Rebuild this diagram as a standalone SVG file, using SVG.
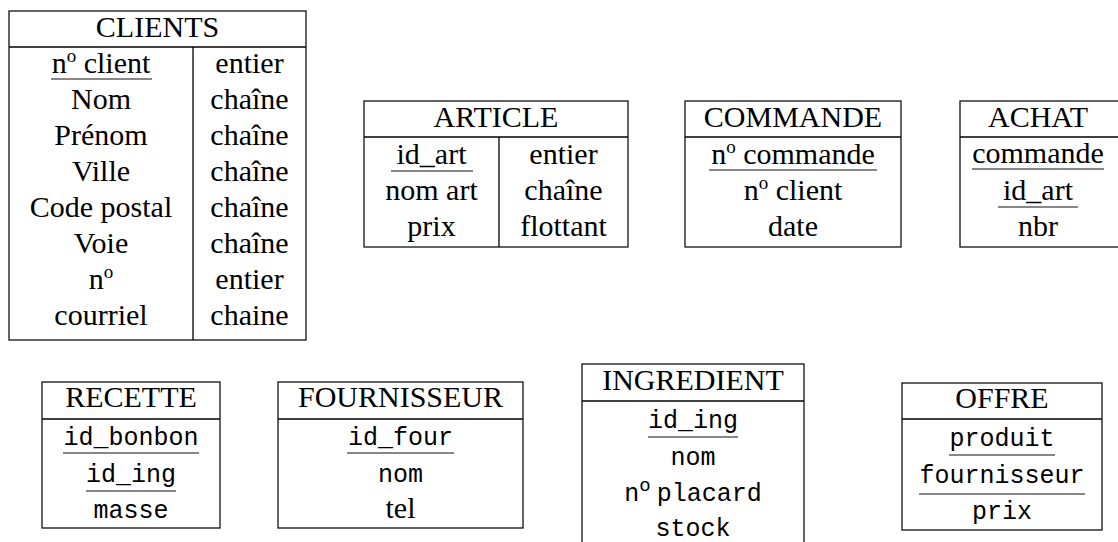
<svg xmlns="http://www.w3.org/2000/svg" width="1118" height="542" viewBox="0 0 1118 542">
  <style>
    .frame { fill: none; stroke: #111; stroke-width: 1.3; }
    .rule { stroke: #000; stroke-width: 1.3; }
    .ul { stroke: #111; stroke-width: 1.2; }
    .rm { font-family: "Liberation Serif", "Times New Roman", serif; font-size: 30px; fill: #000; text-anchor: middle; }
    .tt { font-family: "Liberation Mono", "Courier New", monospace; font-size: 25px; fill: #000; text-anchor: middle; }
    .sup { font-size: 19px; }
  </style>
  <rect width="1118" height="542" fill="#fff"/>

  <!-- CLIENTS -->
  <g id="clients">
    <rect class="frame" x="9" y="11" width="297" height="329"/>
    <line class="rule" x1="9" y1="47" x2="306" y2="47"/>
    <line class="rule" x1="193" y1="47" x2="193" y2="340"/>
    <text class="rm" x="157.5" y="37">CLIENTS</text>
    <text class="rm" x="101" y="73">n<tspan class="sup" dy="-11">o</tspan><tspan dy="11"> client</tspan></text>
    <line class="ul" x1="51" y1="79" x2="152" y2="79"/>
    <text class="rm" x="101" y="109">Nom</text>
    <text class="rm" x="101" y="145">Prénom</text>
    <text class="rm" x="101" y="181">Ville</text>
    <text class="rm" x="101" y="217">Code postal</text>
    <text class="rm" x="101" y="253">Voie</text>
    <text class="rm" x="101" y="289">n<tspan class="sup" dy="-11">o</tspan></text>
    <text class="rm" x="101" y="325">courriel</text>
    <text class="rm" x="249.5" y="73">entier</text>
    <text class="rm" x="249.5" y="109">chaîne</text>
    <text class="rm" x="249.5" y="145">chaîne</text>
    <text class="rm" x="249.5" y="181">chaîne</text>
    <text class="rm" x="249.5" y="217">chaîne</text>
    <text class="rm" x="249.5" y="253">chaîne</text>
    <text class="rm" x="249.5" y="289">entier</text>
    <text class="rm" x="249.5" y="325">chaine</text>
  </g>

  <!-- ARTICLE -->
  <g id="article">
    <rect class="frame" x="364" y="101" width="264" height="146"/>
    <line class="rule" x1="364" y1="137" x2="628" y2="137"/>
    <line class="rule" x1="499" y1="137" x2="499" y2="247"/>
    <text class="rm" x="496" y="127">ARTICLE</text>
    <text class="rm" x="431.5" y="164">id_art</text>
    <line class="ul" x1="391" y1="171" x2="473" y2="171"/>
    <text class="rm" x="431.5" y="200">nom art</text>
    <text class="rm" x="431.5" y="236">prix</text>
    <text class="rm" x="563.5" y="164">entier</text>
    <text class="rm" x="563.5" y="200">chaîne</text>
    <text class="rm" x="563.5" y="236">flottant</text>
  </g>

  <!-- COMMANDE -->
  <g id="commande">
    <rect class="frame" x="685" y="101" width="216" height="146"/>
    <line class="rule" x1="685" y1="137" x2="901" y2="137"/>
    <text class="rm" x="793" y="127">COMMANDE</text>
    <text class="rm" x="793" y="164">n<tspan class="sup" dy="-11">o</tspan><tspan dy="11"> commande</tspan></text>
    <line class="ul" x1="709" y1="170" x2="877" y2="170"/>
    <text class="rm" x="793" y="200">n<tspan class="sup" dy="-11">o</tspan><tspan dy="11"> client</tspan></text>
    <text class="rm" x="793" y="236">date</text>
  </g>

  <!-- ACHAT -->
  <g id="achat">
    <rect class="frame" x="960" y="101" width="160" height="146"/>
    <line class="rule" x1="960" y1="137" x2="1120" y2="137"/>
    <text class="rm" x="1038" y="127">ACHAT</text>
    <text class="rm" x="1038" y="163">commande</text>
    <line class="ul" x1="972" y1="169" x2="1104" y2="169"/>
    <text class="rm" x="1038" y="200">id_art</text>
    <line class="ul" x1="998" y1="207" x2="1078" y2="207"/>
    <text class="rm" x="1038" y="236">nbr</text>
  </g>

  <!-- RECETTE -->
  <g id="recette">
    <rect class="frame" x="42" y="382" width="178" height="146"/>
    <line class="rule" x1="42" y1="419" x2="220" y2="419"/>
    <text class="rm" x="131" y="407">RECETTE</text>
    <text class="tt" x="131" y="445">id_bonbon</text>
    <line class="ul" x1="63" y1="453" x2="199" y2="453"/>
    <text class="tt" x="131" y="482">id_ing</text>
    <line class="ul" x1="86" y1="491" x2="176" y2="491"/>
    <text class="tt" x="131" y="518">masse</text>
  </g>

  <!-- FOURNISSEUR -->
  <g id="fournisseur">
    <rect class="frame" x="278" y="382" width="245" height="146"/>
    <line class="rule" x1="278" y1="419" x2="523" y2="419"/>
    <text class="rm" x="400.5" y="407">FOURNISSEUR</text>
    <text class="tt" x="400.5" y="445">id_four</text>
    <line class="ul" x1="347" y1="453" x2="454" y2="453"/>
    <text class="tt" x="400.5" y="482">nom</text>
    <text class="rm" x="400.5" y="518">tel</text>
  </g>

  <!-- INGREDIENT -->
  <g id="ingredient">
    <rect class="frame" x="582" y="364" width="222" height="200"/>
    <line class="rule" x1="582" y1="401" x2="804" y2="401"/>
    <text class="rm" x="693" y="390">INGREDIENT</text>
    <text class="tt" x="693" y="428">id_ing</text>
    <line class="ul" x1="648" y1="437" x2="738" y2="437"/>
    <text class="tt" x="693" y="465">nom</text>
    <text class="tt" x="693" y="501">n<tspan class="sup" dy="-10">o</tspan><tspan dx="6" dy="10">placard</tspan></text>
    <text class="tt" x="693" y="536">stock</text>
  </g>

  <!-- OFFRE -->
  <g id="offre">
    <rect class="frame" x="902" y="383" width="200" height="147"/>
    <line class="rule" x1="902" y1="419" x2="1102" y2="419"/>
    <text class="rm" x="1002" y="408">OFFRE</text>
    <text class="tt" x="1002" y="446">produit</text>
    <line class="ul" x1="949" y1="455" x2="1055" y2="455"/>
    <text class="tt" x="1002" y="483">fournisseur</text>
    <line class="ul" x1="919" y1="494" x2="1085" y2="494"/>
    <text class="tt" x="1002" y="519">prix</text>
  </g>
</svg>
